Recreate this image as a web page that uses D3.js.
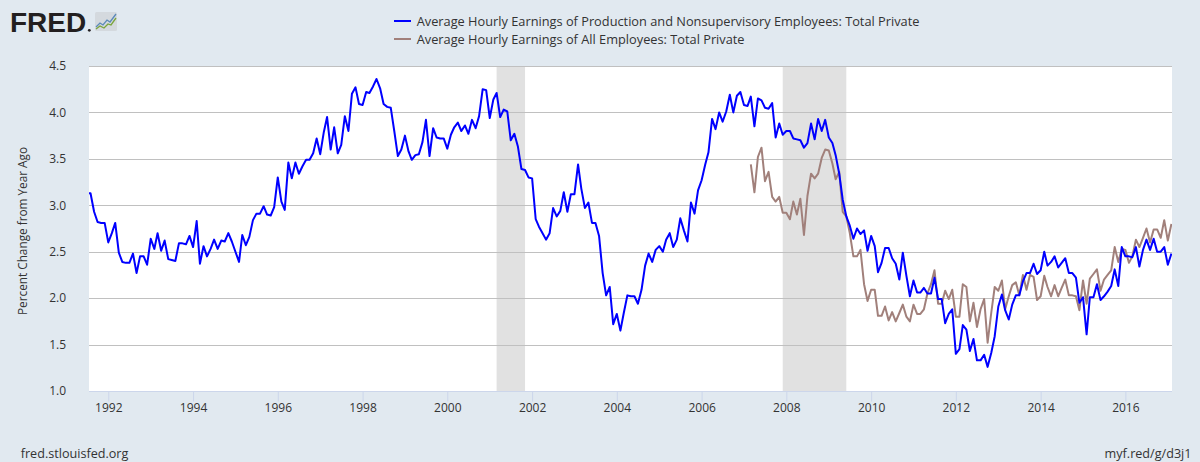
<!DOCTYPE html>
<html><head><meta charset="utf-8">
<script src="https://cdn.jsdelivr.net/npm/d3@7"></script>
<style>
html,body{margin:0;padding:0;background:#e1e9f0;}
svg{display:block;font-family:"Open Sans",sans-serif;}
</style></head><body>
<svg id="c" width="1200" height="462"></svg>
<script>
// ---- data ----
const seriesNames = [
  "Average Hourly Earnings of Production and Nonsupervisory Employees: Total Private",
  "Average Hourly Earnings of All Employees: Total Private"
];
const blueStart = "1991-07";
const blueValues = [
3.13,3.13,2.93,2.82,2.81,2.81,2.60,2.70,2.81,2.49,2.39,2.38,2.38,2.48,2.27,2.45,2.45,2.36,2.64,2.53,
2.70,2.51,2.62,2.42,2.41,2.40,2.59,2.59,2.58,2.67,2.55,2.83,2.37,2.56,2.45,2.53,2.63,2.53,2.62,2.61,
2.70,2.61,2.50,2.39,2.68,2.57,2.66,2.84,2.91,2.91,2.99,2.90,2.89,2.98,3.30,3.04,2.95,3.46,3.29,3.46,
3.34,3.42,3.49,3.49,3.56,3.72,3.55,3.79,3.95,3.60,3.84,3.56,3.65,3.96,3.80,4.20,4.27,4.09,4.08,4.22,
4.21,4.28,4.36,4.26,4.09,4.06,4.05,3.80,3.53,3.60,3.75,3.58,3.49,3.54,3.55,3.68,3.92,3.53,3.83,3.73,
3.72,3.72,3.61,3.76,3.84,3.89,3.80,3.86,3.77,3.92,3.83,3.96,4.25,4.24,3.94,4.14,4.21,3.95,4.03,4.01,
3.70,3.77,3.63,3.39,3.38,3.30,3.29,2.85,2.77,2.70,2.63,2.70,2.97,2.88,2.94,3.14,2.93,3.12,3.12,3.44,
3.18,2.97,3.03,2.81,2.81,2.67,2.27,2.03,2.12,1.72,1.83,1.65,1.84,2.03,2.02,2.02,1.94,2.09,2.35,2.48,
2.39,2.52,2.56,2.50,2.63,2.70,2.55,2.63,2.86,2.73,2.61,3.03,2.91,3.16,3.27,3.44,3.57,3.93,3.82,4.00,
3.90,4.01,4.19,4.00,4.18,4.22,4.08,4.07,4.17,3.85,4.15,4.13,4.05,4.04,4.10,3.73,3.88,3.76,3.80,3.80,
3.72,3.71,3.70,3.62,3.67,3.88,3.71,3.93,3.80,3.92,3.73,3.67,3.54,3.34,3.06,2.88,2.78,2.64,2.75,2.69,
2.73,2.51,2.67,2.56,2.28,2.38,2.54,2.54,2.43,2.37,2.20,2.49,2.24,2.02,2.19,2.06,2.06,2.11,2.05,2.05,
2.22,1.99,1.99,1.73,1.83,1.88,1.40,1.45,1.71,1.66,1.43,1.56,1.33,1.33,1.39,1.26,1.41,1.59,1.91,2.04,
1.87,1.77,1.93,2.03,2.03,2.18,2.27,2.27,2.37,2.26,2.30,2.50,2.35,2.39,2.45,2.33,2.38,2.43,2.27,2.27,
2.22,1.95,2.01,1.61,2.01,2.01,2.15,1.98,2.02,2.07,2.13,2.31,2.13,2.55,2.45,2.45,2.44,2.55,2.34,2.52,
2.63,2.52,2.64,2.50,2.50,2.55,2.36,2.48
];
const brownStart = "2007-03";
const brownValues = [
3.44,3.14,3.52,3.62,3.26,3.36,3.09,3.04,3.09,2.92,2.92,2.85,3.04,2.90,3.07,2.68,3.10,3.34,3.29,3.34,
3.51,3.60,3.59,3.45,3.28,3.36,2.93,2.88,2.70,2.45,2.45,2.52,2.15,1.97,2.09,2.09,1.81,1.81,1.91,1.76,
1.85,1.75,1.84,1.93,1.80,1.75,1.93,1.83,1.83,1.88,2.05,2.15,2.30,1.94,1.94,2.08,1.99,2.09,1.80,1.80,
2.15,2.12,1.75,1.95,1.69,1.88,1.99,1.52,1.84,2.12,2.08,2.19,1.88,2.02,2.14,2.17,2.03,2.25,2.09,2.25,
2.23,1.98,2.02,2.24,2.12,2.02,2.14,2.02,2.11,2.20,2.03,2.03,2.02,1.87,2.19,1.94,2.21,2.26,2.31,2.08,
2.20,2.25,2.30,2.55,2.39,2.53,2.52,2.38,2.45,2.63,2.55,2.65,2.75,2.60,2.74,2.74,2.65,2.84,2.62,2.80
];
const recessions = [["2001-03","2001-11"],["2007-12","2009-06"]];
const yTicks = [1.0,1.5,2.0,2.5,3.0,3.5,4.0,4.5];
const xTickYears = [1992,1994,1996,1998,2000,2002,2004,2006,2008,2010,2012,2014,2016];
const colors = ["#0000ff","#a1807b"];

// ---- helpers ----
const pm = s => { const [y,m] = s.split("-").map(Number); return new Date(y, m-1, 1); };
const toSeries = (start, vals) => vals.map((v,i) => ({d: d3.timeMonth.offset(pm(start), i), v}));
const blue = toSeries(blueStart, blueValues);
const brown = toSeries(brownStart, brownValues);

// fit a text element's font size so that its rendered width matches target
function fitWidth(sel, target) {
  const n = sel.node();
  const w = n.getComputedTextLength();
  const fs = parseFloat(sel.attr("font-size"));
  if (w > 0) sel.attr("font-size", (fs * target / w).toFixed(2));
  return sel;
}

const L = 89, R = 1172, T = 66, B = 391;
const svg = d3.select("#c");
svg.append("rect").attr("width",1200).attr("height",462).attr("fill","#e1e9f0");

const x = d3.scaleTime().domain([new Date(1991,6,19), new Date(2017,1,6)]).range([L,R]);
const y = d3.scaleLinear().domain([1,4.5]).range([B,T]);

// plot bg
svg.append("rect").attr("x",L).attr("y",T).attr("width",R-L).attr("height",B-T).attr("fill","#fff");

svg.append("defs").append("clipPath").attr("id","clip")
  .append("rect").attr("x",L).attr("y",T-2).attr("width",R-L).attr("height",B-T+4);

// recessions
svg.append("g").selectAll("rect").data(recessions).join("rect")
  .attr("x", d => x(pm(d[0]))).attr("width", d => x(pm(d[1])) - x(pm(d[0])))
  .attr("y", T).attr("height", B-T).attr("fill","#e1e1e1");

// grid
svg.append("g").selectAll("line").data(yTicks.filter(t => t > 1)).join("line")
  .attr("x1",L).attr("x2",R).attr("y1",d=>Math.round(y(d))+0.5).attr("y2",d=>Math.round(y(d))+0.5)
  .attr("stroke","#c0c0c0").attr("stroke-width",1);

// y axis labels
const yAxis = d3.axisLeft(y).tickValues(yTicks).tickFormat(d3.format(".1f")).tickSize(0).tickPadding(0);
const gy = svg.append("g").attr("transform",`translate(66,0)`).call(yAxis);
gy.select(".domain").remove();
gy.selectAll("text").attr("font-size",12).attr("fill","#333").attr("font-family","Open Sans");

// x axis
const xAxis = d3.axisBottom(x).tickValues(xTickYears.map(yr => new Date(yr,0,1)))
  .tickFormat(d3.timeFormat("%Y")).tickSize(10).tickSizeOuter(0).tickPadding(1.5);
const gx = svg.append("g").attr("transform",`translate(0,${B+0.5})`).call(xAxis);
gx.select(".domain").attr("stroke","#ccd6eb").attr("d",`M${L},0H${R}`);
gx.selectAll(".tick line").attr("stroke","#ccd6eb");
gx.selectAll("text").attr("font-size",12).attr("fill","#333").attr("font-family","Open Sans");

// lines
const line = d3.line().x(d => x(d.d)).y(d => y(d.v));
const gl = svg.append("g").attr("clip-path","url(#clip)");
gl.append("path").datum(brown).attr("d",line).attr("fill","none").attr("stroke",colors[1]).attr("stroke-width",2).attr("stroke-linejoin","round");
gl.append("path").datum(blue).attr("d",line).attr("fill","none").attr("stroke",colors[0]).attr("stroke-width",2).attr("stroke-linejoin","round");

// y title
const yt = svg.append("text").attr("transform","translate(27,231) rotate(-90)").attr("text-anchor","middle")
  .attr("font-size",12).attr("fill","#333").text("Percent Change from Year Ago");
fitWidth(yt, 168);

// legend
const legendWidths = [503, 328];
const lg = svg.append("g");
seriesNames.forEach((n,i) => {
  const yy = 21 + i*18;
  lg.append("line").attr("x1",394).attr("x2",411).attr("y1",yy).attr("y2",yy).attr("stroke",colors[i]).attr("stroke-width",2);
  const t = lg.append("text").attr("x",416.7).attr("y",yy+5).attr("font-size",12).attr("fill","#333").text(n);
  if (i === 0) fitWidth(t, legendWidths[0]);
});
// use same size for second legend row
lg.selectAll("text").filter((d,i)=>i===1).attr("font-size", lg.select("text").attr("font-size"));

// footer
const f1 = svg.append("text").attr("x",20.7).attr("y",457.5).attr("font-size",12).attr("fill","#333").text("fred.stlouisfed.org");
fitWidth(f1, 107.7);
svg.append("text").attr("x",1191.5).attr("y",457.5).attr("text-anchor","end").attr("font-size",f1.attr("font-size")).attr("fill","#333").text("myf.red/g/d3j1");

// FRED logo
svg.append("text").attr("x",10).attr("y",31.7).attr("font-family","Liberation Sans, Arial, sans-serif")
  .attr("font-weight","bold").attr("font-size",28).attr("fill","#231f20").text("FRED");
svg.append("circle").attr("cx",89.3).attr("cy",30.3).attr("r",1.4).attr("fill","#231f20");
const ic = svg.append("g").attr("transform","translate(95,12)");
ic.append("rect").attr("width",22).attr("height",19).attr("rx",1.5).attr("fill","#d4d9de");
ic.append("polyline").attr("points","1,15 5,11 8,13 12,8 15,10 21,2").attr("fill","none").attr("stroke","#5b8ab8").attr("stroke-width",1.3);
ic.append("polyline").attr("points","1,17 5,14 9,16 13,12 16,13 21,6").attr("fill","none").attr("stroke","#7aa53c").attr("stroke-width",1.3);
</script>
</body></html>
